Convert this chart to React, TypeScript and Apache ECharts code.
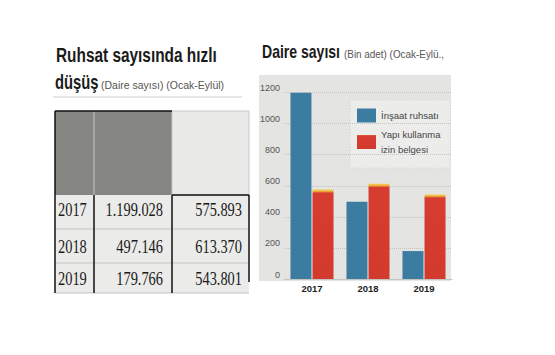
import React, { useEffect, useRef } from "react";
import * as echarts from "echarts";

const years = ["2017", "2018", "2019"];
const insaatRuhsati = [1199028, 497146, 179766];
const yapiKullanma = [575893, 613370, 543801];
const yTickMax = 1200;
const yTickStep = 200;

const SANS = "'Liberation Sans', Arial, sans-serif";
const SERIF = "'Liberation Serif', 'Times New Roman', serif";

const fmt = (v: number) => String(v).replace(/\B(?=(\d{3})+(?!\d))/g, ".");

function tableGraphics() {
  const els: any[] = [];
  els.push({ type: "rect", shape: { x: 55, y: 195, width: 194, height: 98 }, style: { fill: "#ebebe9" } });
  els.push({ type: "rect", shape: { x: 55, y: 111, width: 117, height: 84 }, style: { fill: "#858581" } });
  els.push({ type: "rect", shape: { x: 172, y: 111, width: 77, height: 84 }, style: { fill: "#e9e9e7", stroke: "#c9c9c9", lineWidth: 1 } });
  els.push({ type: "line", shape: { x1: 94, y1: 111, x2: 94, y2: 195 }, style: { stroke: "#c8c8c3", lineWidth: 1 } });
  [229, 263, 293].forEach((y) =>
    els.push({ type: "line", shape: { x1: 55, y1: y, x2: 249, y2: y }, style: { stroke: "#c4c4c4", lineWidth: 1 } })
  );
  els.push({ type: "line", shape: { x1: 55, y1: 111, x2: 172, y2: 111 }, style: { stroke: "#111", lineWidth: 1.5 } });
  els.push({ type: "line", shape: { x1: 55, y1: 111, x2: 55, y2: 293 }, style: { stroke: "#111", lineWidth: 1.5 } });
  els.push({ type: "line", shape: { x1: 94, y1: 195, x2: 94, y2: 293 }, style: { stroke: "#111", lineWidth: 1.5 } });
  els.push({ type: "line", shape: { x1: 172, y1: 195, x2: 172, y2: 293 }, style: { stroke: "#111", lineWidth: 1.5 } });
  els.push({ type: "line", shape: { x1: 172, y1: 195, x2: 249, y2: 195 }, style: { stroke: "#111", lineWidth: 1.5 } });
  els.push({ type: "line", shape: { x1: 249, y1: 195, x2: 249, y2: 282 }, style: { stroke: "#111", lineWidth: 1.5 } });
  const rowsY = [210, 247, 279];
  years.forEach((yr, i) => {
    const base = { fill: "#1a1a1a", font: `18px ${SERIF}`, verticalAlign: "middle" };
    els.push({ type: "text", x: 58, y: rowsY[i], scaleX: 0.8, style: { ...base, text: yr, align: "left" } });
    els.push({ type: "text", x: 163, y: rowsY[i], scaleX: 0.8, style: { ...base, text: fmt(insaatRuhsati[i]), align: "right" } });
    els.push({ type: "text", x: 242, y: rowsY[i], scaleX: 0.8, style: { ...base, text: fmt(yapiKullanma[i]), align: "right" } });
  });
  return els;
}

export default function App() {
  const ref = useRef<HTMLDivElement>(null);
  useEffect(() => {
    if (!ref.current) return;
    const chart = echarts.init(ref.current, null, { renderer: "svg" });
    const redGrad = {
      type: "linear", x: 0, y: 0, x2: 0, y2: 1,
      colorStops: [
        { offset: 0, color: "#f4d25a" },
        { offset: 0.02, color: "#eeb040" },
        { offset: 0.04, color: "#d63c2f" },
        { offset: 1, color: "#d33a2e" },
      ],
    };
    chart.setOption({
      animation: false,
      backgroundColor: "#ffffff",
      graphic: [
        { type: "text", x: 56, y: 55, scaleX: 0.77, style: { text: "Ruhsat sayısında hızlı", font: `bold 20px ${SANS}`, fill: "#1b1b1b", verticalAlign: "middle" } },
        { type: "text", x: 55, y: 82.5, scaleX: 0.74, style: { text: "düşüş", font: `bold 20px ${SANS}`, fill: "#1b1b1b", verticalAlign: "middle" } },
        { type: "text", x: 101, y: 85, scaleX: 1.0, style: { text: "(Daire sayısı) (Ocak-Eylül)", font: `10.5px ${SANS}`, fill: "#555", verticalAlign: "middle" } },
        { type: "line", shape: { x1: 53, y1: 97, x2: 242, y2: 97 }, style: { stroke: "#cfcfcf", lineWidth: 1 } },
        ...tableGraphics(),
        { type: "text", x: 262, y: 51.5, scaleX: 0.78, style: { text: "Daire sayısı", font: `bold 18px ${SANS}`, fill: "#1b1b1b", verticalAlign: "middle" } },
        { type: "text", x: 344, y: 54, scaleX: 0.9, style: { text: "(Bin adet) (Ocak-Eylü.,", font: `11px ${SANS}`, fill: "#555", verticalAlign: "middle" } },
        { type: "rect", z: -10, shape: { x: 259, y: 75, width: 192, height: 206 }, style: { fill: "#e4e4e2" } },
        { type: "rect", z: -9, shape: { x: 350, y: 100, width: 100, height: 68 }, style: { fill: "#ececea", stroke: "#cfcfcc", lineWidth: 1, lineDash: [1, 2] } },
      ],
      grid: { left: 284, right: 103, top: 92.5, bottom: 76, containLabel: false },
      legend: {
        orient: "vertical",
        left: 357,
        top: 108,
        padding: 0,
        itemWidth: 19,
        itemHeight: 14,
        itemGap: 4,
        icon: "rect",
        textStyle: { fontSize: 9.5, color: "#444", fontFamily: SANS, lineHeight: 15 },
        data: ["İnşaat ruhsatı", "Yapı kullanma\nizin belgesi"],
      },
      xAxis: {
        type: "category",
        data: years,
        axisTick: { show: false },
        axisLine: { lineStyle: { color: "#c4c4c2", width: 1 } },
        axisLabel: { fontSize: 9.5, fontWeight: "bold", color: "#222", margin: 4, fontFamily: SANS },
      },
      yAxis: {
        type: "value",
        min: 0,
        max: yTickMax,
        interval: yTickStep,
        axisLine: { show: false },
        axisTick: { show: false },
        axisLabel: {
          fontSize: 9, color: "#555", margin: 4, verticalAlign: "bottom", fontFamily: SANS,
          formatter: (v: number) => String(v),
        },
        splitLine: { lineStyle: { color: "#c2c2c0", type: "dotted", width: 1 } },
      },
      series: [
        {
          name: "İnşaat ruhsatı",
          type: "bar",
          barWidth: 21,
          barGap: "5%",
          itemStyle: { color: "#3b7ca0" },
          data: insaatRuhsati.map((v) => v / 1000),
        },
        {
          name: "Yapı kullanma\nizin belgesi",
          type: "bar",
          barWidth: 21,
          barGap: "5%",
          itemStyle: { color: redGrad },
          data: yapiKullanma.map((v) => v / 1000),
        },
      ],
    });
    return () => chart.dispose();
  }, []);
  return (
    <div
      ref={ref}
      style={{ position: "fixed", left: 0, top: 0, width: 555, height: 355, background: "#fff" }}
    />
  );
}
